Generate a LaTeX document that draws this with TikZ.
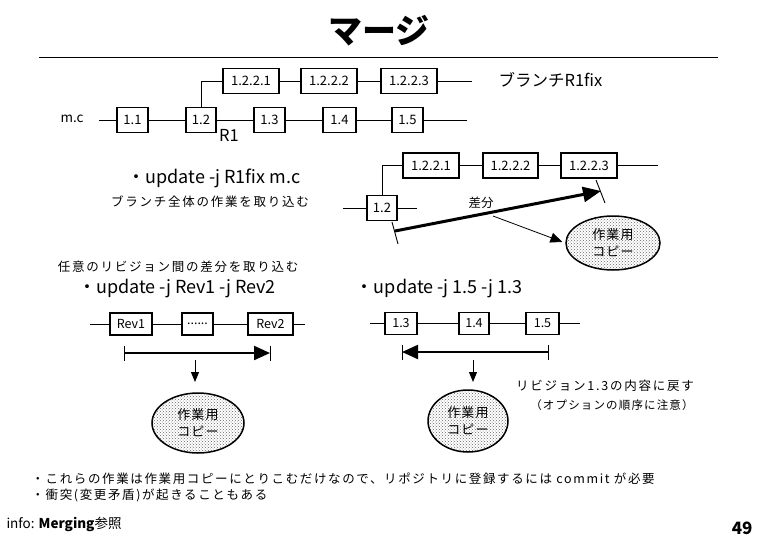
\documentclass[tikz,border=0pt]{standalone}
\usepackage{fontspec}
\setmainfont{Noto Sans CJK JP}
\usetikzlibrary{arrows.meta,patterns,shapes.geometric}
\begin{document}
\begin{tikzpicture}[x=1pt,y=-1pt,
  tb/.style={draw, line width=1.8pt, minimum height=25pt, inner sep=0pt, font=\fontsize{13}{13}\selectfont},
  lb/.style={draw, line width=1.4pt, minimum height=22pt, inner sep=0pt, font=\fontsize{12.5}{12.5}\selectfont},
  wc/.style={ellipse, draw, line width=1.5pt, pattern=crosshatch dots, pattern color=black!60, align=center, inner sep=0pt, font=\fontsize{13}{17}\selectfont\addfontfeature{LetterSpace=8}},
  ln/.style={line width=0.9pt},
  cmd/.style={font=\fontsize{18}{18}\selectfont},
  jsm/.style={font=\fontsize{12.5}{12.5}\selectfont\addfontfeature{LetterSpace=14}},
  big/.style={line width=2.2pt, -{Triangle[length=16pt,width=14pt]}},
  tick/.style={line width=0.9pt}
]
\useasboundingbox (0,0) rectangle (758,536);

% title
\node (title) at (379,31) {\fontsize{34}{34}\selectfont\bfseries マージ};
\draw[line width=1pt] (39,57) -- (718,57);

% ---------- top diagram ----------
\node (mc) at (72,119) {\fontsize{13.5}{13.5}\selectfont m.c};
\coordinate (mcs) at (99,120);
\node[tb, minimum width=31pt] (b11) at (132.5,120) {1.1};
\node[tb, minimum width=30pt] (b12) at (201,120) {1.2};
\node[tb, minimum width=31pt] (b13) at (269.5,120) {1.3};
\node[tb, minimum width=33pt] (b14) at (339.5,120) {1.4};
\node[tb, minimum width=31pt] (b15) at (407.5,120) {1.5};
\coordinate (mce) at (467,120);
\node[tb, minimum width=56pt] (b1221) at (251,81) {1.2.2.1};
\node[tb, minimum width=56pt] (b1222) at (329,81) {1.2.2.2};
\node[tb, minimum width=56pt] (b1223) at (409,81) {1.2.2.3};
\coordinate (bre) at (472,81);
\draw[ln] (mcs) -- (b11) -- (b12) -- (b13) -- (b14) -- (b15) -- (mce);
\draw[ln] (b12.north) |- (b1221.west);
\draw[ln] (b1221) -- (b1222) -- (b1223) -- (bre);
\node (r1) at (229,135) {\fontsize{16.5}{16.5}\selectfont R1};
\node[anchor=west] (brname) at (495,80) {\fontsize{16.5}{16.5}\selectfont ブランチR1fix};

% ---------- update -j R1fix ----------
\node[cmd] (cmd1) at (214,178) {・update -j R1fix m.c};
\node[jsm] (desc1) at (210,202) {ブランチ全体の作業を取り込む};

\coordinate (s2s) at (343,208);
\node[tb, minimum width=30pt] (c12) at (382,208) {1.2};
\coordinate (s2e) at (417,208);
\node[tb, minimum width=56pt] (c1221) at (431,165.5) {1.2.2.1};
\node[tb, minimum width=55pt] (c1222) at (510.5,165.5) {1.2.2.2};
\node[tb, minimum width=56pt] (c1223) at (589,165.5) {1.2.2.3};
\coordinate (s2be) at (658,165.5);
\draw[ln] (s2s) -- (c12) -- (s2e);
\draw[ln] (c12.north) |- (c1221.west);
\draw[ln] (c1221) -- (c1222) -- (c1223) -- (s2be);

\coordinate (ta1) at (392,222); \coordinate (ta2) at (398,244);
\coordinate (tb1) at (596,180); \coordinate (tb2) at (605,203);
\draw[tick] (ta1) -- (ta2);
\draw[tick] (tb1) -- (tb2);
\coordinate (da) at (395,231); \coordinate (db) at (601,191);
\draw[big, line width=3pt, -{Triangle[length=18pt,width=15pt]}] (da) -- (db);
\node[font=\fontsize{12.5}{12.5}\selectfont] (diff) at (481,203) {差分};
\node[wc, minimum width=94pt, minimum height=54pt] (w1) at (613,243) {作業用\\コピー};
\coordinate (dsrc) at (493,216);
\draw[line width=0.8pt, -{Triangle[length=12pt,width=10pt]}, shorten >=3pt] (dsrc) -- (w1.west);

% ---------- update -j Rev1 -j Rev2 ----------
\node[jsm] (desc2) at (178,267) {任意のリビジョン間の差分を取り込む};
\node[cmd] (cmd2) at (177,289) {・update -j Rev1 -j Rev2};
\coordinate (s3s) at (90,324);
\node[lb, minimum width=42pt] (rev1) at (131,324) {Rev1};
\node[lb, minimum width=31pt] (dots) at (197.5,324) {......};
\node[lb, minimum width=45pt] (rev2) at (270.5,324) {Rev2};
\coordinate (s3e) at (305,324);
\draw[ln] (s3s) -- (rev1) -- (dots) -- (rev2) -- (s3e);
\coordinate (ra) at (124,353); \coordinate (rb) at (270,353);
\draw[tick] (124,346) -- (124,361);
\draw[tick] (270,346) -- (270,361);
\draw[big] (ra) -- (rb);
\node[wc, minimum width=92pt, minimum height=60pt] (w2) at (198,423) {作業用\\コピー};
\coordinate (d2) at (195,360);
\draw[line width=1pt, -{Triangle[length=10pt,width=8pt]}, shorten >=11pt] (d2) -- (195,393);

% ---------- update -j 1.5 -j 1.3 ----------
\node[cmd] (cmd3) at (439,289) {・update -j 1.5 -j 1.3};
\coordinate (s4s) at (370,323.5);
\node[lb, minimum width=32pt] (e13) at (401,323.5) {1.3};
\node[lb, minimum width=30pt] (e14) at (474,323.5) {1.4};
\node[lb, minimum width=33pt] (e15) at (542.5,323.5) {1.5};
\coordinate (s4e) at (580,323.5);
\draw[ln] (s4s) -- (e13) -- (e14) -- (e15) -- (s4e);
\coordinate (qa) at (548,352); \coordinate (qb) at (402,352);
\draw[tick] (402,345) -- (402,360);
\draw[tick] (548,345) -- (548,360);
\draw[big] (qa) -- (qb);
\node[wc, minimum width=80pt, minimum height=62pt] (w3) at (468,421) {作業用\\コピー};
\coordinate (d3) at (473,360);
\draw[line width=1pt, -{Triangle[length=10pt,width=8pt]}, shorten >=8pt] (d3) -- (473,390);
\node[jsm] (note1) at (605,386) {リビジョン1.3の内容に戻す};
\node[jsm, font=\fontsize{11.5}{11.5}\selectfont\addfontfeature{LetterSpace=10}] (note2) at (612,405) {（オプションの順序に注意）};

% ---------- bottom ----------
\node[jsm, anchor=west, font=\fontsize{12.5}{12.5}\selectfont\addfontfeature{LetterSpace=13}] (bl1) at (28,479) {・これらの作業は作業用コピーにとりこむだけなので、リポジトリに登録するには commit が必要};
\node[jsm, anchor=west, font=\fontsize{12.5}{12.5}\selectfont\addfontfeature{LetterSpace=13}] (bl2) at (28,495) {・衝突(変更矛盾)が起きることもある};
\node[anchor=west, font=\fontsize{13.5}{13.5}\selectfont] (info) at (3,524) {info: \textbf{Merging}参照};
\node[anchor=east, font=\fontsize{17}{17}\selectfont\bfseries] (pg) at (756,528) {49};
\end{tikzpicture}
\end{document}
